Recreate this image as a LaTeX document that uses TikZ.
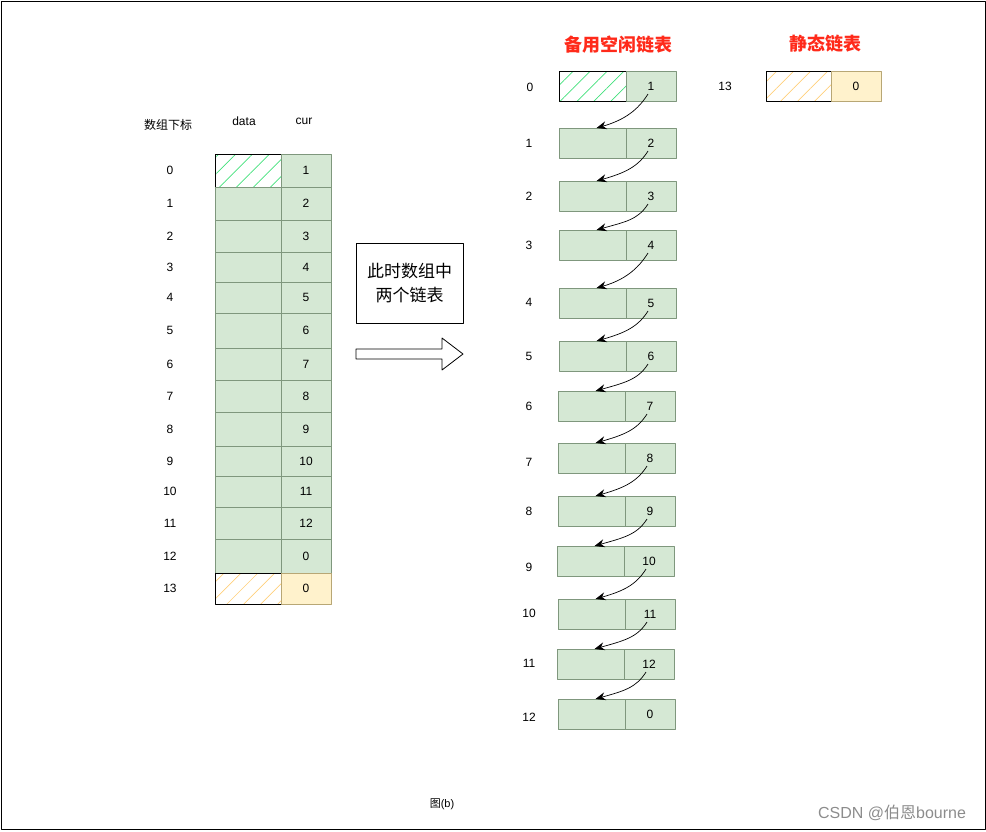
\documentclass[tikz,border=0pt]{standalone}
\usepackage{fontspec}
\setmainfont{Liberation Sans}
\newfontfamily\cjk{Noto Sans CJK SC}
\usetikzlibrary{arrows.meta,patterns.meta}
\definecolor{cellgreen}{HTML}{D5E8D4}
\definecolor{linegreen}{HTML}{7F977D}
\definecolor{hatchgreen}{HTML}{40E07A}
\definecolor{hatchorange}{HTML}{FFCF7A}
\definecolor{cellyellow}{HTML}{FFF2CC}
\definecolor{lineyellow}{HTML}{B8A775}
\definecolor{titlered}{HTML}{FF2A1A}
\begin{document}
\begin{tikzpicture}[x=1pt,y=-1pt, font=\fontsize{12}{14}\selectfont, line join=round,
	cell/.style={draw=linegreen, fill=cellgreen, anchor=north west, inner sep=0pt, outer sep=0pt, line width=0.8pt},
	spare/.style={cell, draw=lineyellow, fill=cellyellow},
	hatchg/.style={cell, draw=black, fill=none, pattern={Lines[angle=45,distance=12pt,line width=0.7pt]}, pattern color=hatchgreen},
	hatcho/.style={cell, draw=black, fill=none, pattern={Lines[angle=45,distance=12pt,line width=0.7pt]}, pattern color=hatchorange},
	link/.style={-{Stealth[length=10pt,width=8pt]}, line width=0.7pt},
	title/.style={font=\fontsize{18}{21}\selectfont\cjk\bfseries, text=titlered}]
	\useasboundingbox (0,0) rectangle (986,831);
	\draw[line width=1pt] (1,1) rectangle (985,829.5) node (frame) {};
	% left table
	\node[font=\fontsize{12}{14}\selectfont\cjk] (hidx) at (168,125) {数组下标};
	\node (hdata) at (244,121) {data};
	\node (hcur) at (304,121) {cur};
	\node[hatchg, minimum width=66pt, minimum height=33pt] (ld0) at (215,154) {};
	\node[cell, minimum width=50pt, minimum height=33pt] (lc0) at (281,154) {1};
	\node (li0) at (170,170) {0};
	\foreach \i/\t/\b/\v in {1/187/220/2, 2/220/252/3, 3/252/282/4, 4/282/313/5, 5/313/348/6, 6/348/380/7,
		7/380/412/8, 8/412/446/9, 9/446/476/10, 10/476/507/11, 11/507/539/12, 12/539/573/0}
	{\node[cell, minimum width=66pt, minimum height={\b-\t}] (ld\i) at (215,\t) {};
		\node[cell, minimum width=50pt, minimum height={\b-\t}] (lc\i) at (281,\t) {\v};
		\node (li\i) at (170,{(\t+\b)/2}) {\i};}
	\node[hatcho, minimum width=66pt, minimum height=31pt] (ld13) at (215,573) {};
	\node[spare, minimum width=50pt, minimum height=31pt] (lc13) at (281,573) {0};
	\node (li13) at (170,588) {13};
	% middle
	\node[draw, line width=0.8pt, minimum width=107pt, minimum height=80pt, align=center,
		font=\fontsize{17}{24}\selectfont\cjk] (note) at (409.5,283) {此时数组中\\两个链表};
	\draw[line width=0.8pt] (356,349)--(442,349)--(442,338)--(463,354)--(442,370)--(442,359)--(356,359)--cycle;
	% right lists
	\node[title] (freet) at (618,45) {备用空闲链表};
	\node[title] (statt) at (825,44) {静态链表};
	\node[hatchg, minimum width=67pt, minimum height=30pt] (fd0) at (559,71) {};
	\node[cell, minimum width=50pt, minimum height=30pt] (fc0) at (626,71) {1};
	\node (ri0) at (530,87) {0};
	\foreach \i/\t/\x/\l/\v in {1/128/559/143/2, 2/181/559/196/3, 3/230/559/245/4, 4/288/559/302/5,
		5/341/559/356/6, 6/391/558/406/7, 7/443/558/462/8, 8/496/558/511/9, 9/546/557/567/10,
		10/599/558/613/11, 11/649/557/663/12, 12/699/558/717/0}
	{\node[cell, minimum width=67pt, minimum height=30pt] (fd\i) at (\x,\t) {};
		\node[cell, minimum width=50pt, minimum height=30pt] (fc\i) at (\x+67,\t) {\v};
		\node (ri\i) at (529,\l) {\i};}
	\foreach \i [evaluate=\i as \j using int(\i+1)] in {0,...,11}
	\draw[link] ([xshift=-3pt,yshift=-8pt]fc\i.center) .. controls +(-10,16) and +(28,-8) .. ([xshift=4pt]fd\j.north);
	\node (si) at (725,86) {13};
	\node[hatcho, minimum width=65pt, minimum height=30pt] (sd) at (766,71) {};
	\node[spare, minimum width=50pt, minimum height=30pt] (sc) at (831,71) {0};
	% caption
	\node[font=\fontsize{11}{13}\selectfont] (cap) at (442,804) {{\cjk 图}(b)};
	\node[font=\fontsize{16}{19}\selectfont, text=black!45] (mark) at (892,813) {CSDN @{\cjk 伯恩}bourne};
\end{tikzpicture}
\end{document}
